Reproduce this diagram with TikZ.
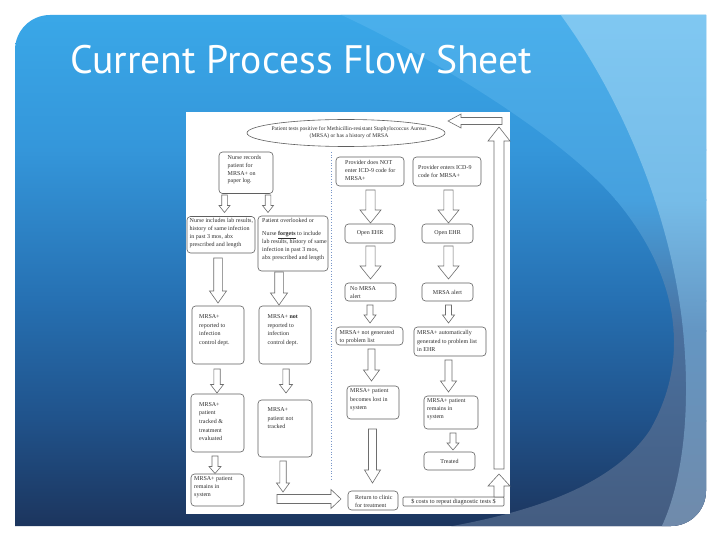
\documentclass[tikz,border=0pt]{standalone}
\usepackage{fontspec}
\setmainfont{Liberation Serif}
\newfontfamily\titlefont{PT Sans}
\usetikzlibrary{calc,shapes.geometric}
\definecolor{bga}{RGB}{58,168,232}
\definecolor{bgb}{RGB}{52,150,218}
\definecolor{bgc}{RGB}{38,112,178}
\definecolor{bgd}{RGB}{32,82,138}
\definecolor{bge}{RGB}{28,52,92}
\definecolor{mda}{RGB}{74,176,236}
\definecolor{mdb}{RGB}{70,160,222}
\definecolor{mdc}{RGB}{74,112,158}
\definecolor{mdd}{RGB}{68,92,128}
\definecolor{lta}{RGB}{128,200,242}
\definecolor{ltb}{RGB}{118,188,232}
\definecolor{ltc}{RGB}{100,150,195}
\definecolor{ltd}{RGB}{112,138,170}
\definecolor{boxline}{RGB}{95,95,95}
\definecolor{arrline}{RGB}{110,110,110}
\definecolor{txtc}{RGB}{45,45,45}
\definecolor{sepc}{RGB}{120,150,200}
% block arrow from #1 to #2: shaft half width #3, head half width #4, head length #5
\newcommand{\blkarrow}[5]{%
  \coordinate (bah) at ($(#2)!#5!(#1)$);
  \draw[barrow] ($(#1)!#3!90:(#2)$) -- ($(bah)!#3!90:(#2)$) -- ($(bah)!#4!90:(#2)$) -- (#2) -- ($(bah)!#4!-90:(#2)$) -- ($(bah)!#3!-90:(#2)$) -- ($(#1)!#3!-90:(#2)$) -- cycle;}
\newcommand{\flowbox}[6]{\node[box, minimum width={(#4)-(#2)}, minimum height={(#5)-(#3)}] (#1) at ({((#2)+(#4))/2},{((#3)+(#5))/2}) {#6};}
\newcommand{\flowtext}[5]{\node[txt, anchor=north west, font=\fontsize{6pt}{#4}\selectfont] (#1) at (#2,{(#3)-4.1}) {#5};}
\begin{document}
\begin{tikzpicture}[x=1pt,y=-1pt,
  box/.style={draw=boxline, line width=0.6pt, rounded corners=3.5pt, fill=white, inner sep=0pt, font=\fontsize{6pt}{7.9pt}\selectfont, text=txtc, align=center},
  txt/.style={inner sep=0pt, text=txtc, align=left},
  barrow/.style={draw=arrline, line width=0.6pt, fill=white, line join=miter},
  sepline/.style={draw=sepc, line width=0.7pt, dotted}]
\useasboundingbox (0,0) rectangle (720,540);
\fill[white] (0,0) rectangle (720,540);
% slide panel
\begin{scope}
\clip (15,50) .. controls (15,30.7) and (30.7,15) .. (50,15) -- (706,15) -- (706,491) .. controls (706,510.3) and (690.3,526) .. (671,526) -- (15,526) -- cycle;
\shade[top color=bga, bottom color=bgb] (10,10) rectangle (720,151);
\shade[top color=bgb, bottom color=bgc] (10,150) rectangle (720,301);
\shade[top color=bgc, bottom color=bgd] (10,300) rectangle (720,421);
\shade[top color=bgd, bottom color=bge] (10,420) rectangle (720,530);
\begin{scope}
\clip (330,10) .. controls (400,40) and (560,130) .. (620,205) .. controls (680,280) and (690,360) .. (650,430) .. controls (610,490) and (520,515) .. (430,530) -- (720,530) -- (720,10) -- cycle;
\shade[top color=mda, bottom color=mdb] (300,10) rectangle (720,201);
\shade[top color=mdb, bottom color=mdc] (300,200) rectangle (720,331);
\shade[top color=mdc, bottom color=mdd] (300,330) rectangle (720,530);
\end{scope}
\begin{scope}
\clip (557,10) .. controls (610,80) and (670,200) .. (683,330) .. controls (692,420) and (680,490) .. (660,530) -- (720,530) -- (720,10) -- cycle;
\shade[top color=lta, bottom color=ltb] (500,10) rectangle (720,201);
\shade[top color=ltb, bottom color=ltc] (500,200) rectangle (720,331);
\shade[top color=ltc, bottom color=ltd] (500,330) rectangle (720,530);
\end{scope}
\end{scope}
% title
\node[anchor=base west, inner sep=0pt, text=white] (title) at (70,74) {\resizebox{462pt}{!}{\titlefont Current Process Flow Sheet}};
% flow chart sheet
\fill[white] (186,112) rectangle (510,514);
\coordinate (sepT) at (331,152);
\coordinate (sepB) at (331,481);
\draw[sepline] (sepT) -- (sepB);
\node[ellipse, draw=boxline, line width=0.6pt, minimum width=198pt, minimum height=27pt, inner sep=0pt] (e0) at (346,133) {};
\node[inner sep=0pt, align=center, font=\fontsize{5.6pt}{7pt}\selectfont, text=txtc] (e0t) at (349,132.5) {Patient tests positive for Methicillin-resistant Staphylococcus Aureus\\(MRSA) or has a history of MRSA};
% left side
\flowbox{b1}{219}{152}{273}{193.5}{}
\flowtext{t1}{227.5}{159}{7.9pt}{Nurse records\\patient for\\MRSA+ on\\paper log.}
\flowbox{b2}{187}{216.5}{255}{253}{}
\flowtext{t2}{189.5}{222.2}{7.9pt}{Nurse includes lab results,\\history of same infection\\in past 3 mos, abx\\prescribed and length}
\flowbox{b3}{258}{216}{328}{271}{}
\flowtext{t3}{262}{222.2}{7.9pt}{Patient overlooked or\\[5.6pt]Nurse \textbf{\underline{forgets}} to include\\lab results, history of same\\infection in past 3 mos,\\abx prescribed and length}
\flowbox{b4}{192}{306}{244}{364}{}
\flowtext{t4}{199}{318.5}{8.7pt}{MRSA+\\reported to\\infection\\control dept.}
\flowbox{b5}{259}{306}{311}{364}{}
\flowtext{t5}{267.5}{318.5}{8.7pt}{MRSA+ \textbf{not}\\reported to\\infection\\control dept.}
\flowbox{b6}{191}{394}{244}{452}{}
\flowtext{t6}{199}{406.2}{8.65pt}{MRSA+\\patient\\tracked \&\\treatment\\evaluated}
\flowbox{b7}{258}{400}{312}{457}{}
\flowtext{t7}{267.5}{411.4}{8.65pt}{MRSA+\\patient not\\tracked}
\flowbox{b8}{191}{474}{244}{506}{}
\flowtext{t8}{194}{480}{8.1pt}{MRSA+ patient\\remains in\\system}
% right side
\flowbox{b9}{336}{157}{404}{186}{}
\flowtext{t9}{345}{164}{7.95pt}{Provider does NOT\\enter ICD-9 code for\\MRSA+}
\flowbox{b10}{413}{157}{481}{186}{}
\flowtext{t10}{418}{169.2}{7.6pt}{Provider enters ICD-9\\code for MRSA+}
\flowbox{b11}{345}{224}{395}{243}{Open EHR}
\flowbox{b12}{422}{224}{473}{243}{Open EHR}
\flowbox{b13}{345}{283}{396}{301}{}
\flowtext{t13}{350}{290.3}{8pt}{No MRSA\\alert}
\flowbox{b14}{422}{283}{473}{301}{MRSA alert}
\flowbox{b15}{336}{327}{403}{345}{}
\flowtext{t15}{339.5}{334.3}{7.9pt}{MRSA+ not generated\\to problem list}
\flowbox{b16}{414}{327}{486}{356}{}
\flowtext{t16}{417}{334.3}{8.6pt}{MRSA+ automatically\\generated to problem list\\in EHR}
\flowbox{b17}{347}{386}{399}{419}{}
\flowtext{t17}{350}{392.4}{8.6pt}{MRSA+ patient\\becomes lost in\\system}
\flowbox{b18}{424}{396}{478}{429}{}
\flowtext{t18}{427}{402.1}{8.4pt}{MRSA+ patient\\remains in\\system}
\flowbox{b19}{424}{452}{475}{470}{Treated}
\flowbox{b20}{348}{491}{398}{510}{}
\flowtext{t20}{355}{499.7}{7.9pt}{Return to clinic\\for treatment}
\node[box, rounded corners=1pt, minimum width=101pt, minimum height=9pt, font=\fontsize{6.2pt}{7pt}\selectfont] (b21) at (453.5,501.5) {\$ costs to repeat diagnostic tests \$};
% arrows
\coordinate (a1s) at (224.5,195); \coordinate (a1e) at (224.5,212.5);
\coordinate (a2s) at (268,195); \coordinate (a2e) at (268,212.5);
\coordinate (a3s) at (218,258); \coordinate (a3e) at (218,303);
\coordinate (a4s) at (279,272); \coordinate (a4e) at (279,305);
\coordinate (a5s) at (217,369); \coordinate (a5e) at (217,393);
\coordinate (a6s) at (286,369); \coordinate (a6e) at (286,393);
\coordinate (a7s) at (215,456); \coordinate (a7e) at (215,473.5);
\coordinate (a8s) at (283,461); \coordinate (a8e) at (283,492);
\coordinate (a9s) at (277,499); \coordinate (a9e) at (341,499);
\coordinate (a10s) at (370.5,190); \coordinate (a10e) at (370.5,223);
\coordinate (a11s) at (448.5,190); \coordinate (a11e) at (448.5,223);
\coordinate (a12s) at (370.5,246); \coordinate (a12e) at (370.5,279);
\coordinate (a13s) at (448.5,246); \coordinate (a13e) at (448.5,279);
\coordinate (a14s) at (370,305); \coordinate (a14e) at (370,323);
\coordinate (a15s) at (448.5,305); \coordinate (a15e) at (448.5,323);
\coordinate (a16s) at (371.5,349); \coordinate (a16e) at (371.5,381);
\coordinate (a17s) at (448.5,360); \coordinate (a17e) at (448.5,392);
\coordinate (a18s) at (372.5,429); \coordinate (a18e) at (372.5,483);
\coordinate (a19s) at (453,433); \coordinate (a19e) at (453,450);
\coordinate (a20s) at (499,497); \coordinate (a20e) at (499,474);
\coordinate (a21s) at (499,469); \coordinate (a21e) at (499,127);
\coordinate (a22s) at (502,121); \coordinate (a22e) at (448,121);
\blkarrow{a1s}{a1e}{2.8pt}{5.5pt}{7pt}
\blkarrow{a2s}{a2e}{2.8pt}{5.5pt}{7pt}
\blkarrow{a3s}{a3e}{4.3pt}{8.5pt}{12pt}
\blkarrow{a4s}{a4e}{4.3pt}{8.5pt}{12pt}
\blkarrow{a5s}{a5e}{3.2pt}{6.5pt}{8.5pt}
\blkarrow{a6s}{a6e}{3.2pt}{6.5pt}{8.5pt}
\blkarrow{a7s}{a7e}{3pt}{6pt}{7pt}
\blkarrow{a8s}{a8e}{3.2pt}{6.5pt}{9pt}
\blkarrow{a9s}{a9e}{4.5pt}{9.5pt}{10pt}
\blkarrow{a10s}{a10e}{4.6pt}{10.5pt}{13pt}
\blkarrow{a11s}{a11e}{4.6pt}{10.5pt}{13pt}
\blkarrow{a12s}{a12e}{4.6pt}{10.5pt}{13pt}
\blkarrow{a13s}{a13e}{4.6pt}{10.5pt}{13pt}
\blkarrow{a14s}{a14e}{3pt}{6pt}{8pt}
\blkarrow{a15s}{a15e}{3pt}{6pt}{8pt}
\blkarrow{a16s}{a16e}{3.5pt}{8pt}{11pt}
\blkarrow{a17s}{a17e}{3.5pt}{8pt}{11pt}
\blkarrow{a18s}{a18e}{4pt}{8pt}{13pt}
\blkarrow{a19s}{a19e}{3pt}{6pt}{7pt}
\blkarrow{a20s}{a20e}{5pt}{11pt}{12pt}
\blkarrow{a21s}{a21e}{5pt}{11pt}{14pt}
\blkarrow{a22s}{a22e}{3.5pt}{7pt}{13pt}
\end{tikzpicture}
\end{document}
